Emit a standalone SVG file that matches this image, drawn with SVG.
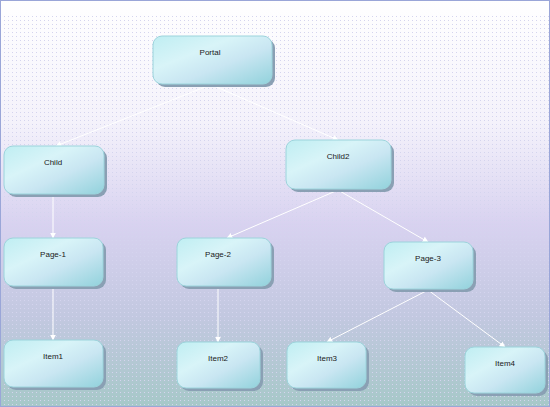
<svg xmlns="http://www.w3.org/2000/svg" width="550" height="407" viewBox="0 0 550 407">
<defs>
<linearGradient id="bg" x1="0" y1="0" x2="0" y2="1">
<stop offset="0" stop-color="#ffffff"/>
<stop offset="0.3" stop-color="#f4f2fb"/>
<stop offset="0.55" stop-color="#d8d2f0"/>
<stop offset="0.78" stop-color="#c2c8e0"/>
<stop offset="1" stop-color="#a6c8c8"/>
</linearGradient>
<pattern id="dots" width="4" height="4" patternUnits="userSpaceOnUse">
<rect x="0" y="0" width="1" height="1" fill="#d4d4ee"/>
</pattern>
<linearGradient id="nf" x1="0" y1="0" x2="1" y2="1">
<stop offset="0" stop-color="#bfeef2"/>
<stop offset="0.35" stop-color="#d8f4f8"/>
<stop offset="0.6" stop-color="#c9e6f2"/>
<stop offset="1" stop-color="#92d2dc"/>
</linearGradient>
<marker id="ah" viewBox="0 0 10 10" refX="9" refY="5" markerWidth="6" markerHeight="6" orient="auto">
<path d="M0,0 L10,5 L0,10 z" fill="#ffffff"/>
</marker>
<style>
.sh{fill:#8aa0b4;}
.nd{fill:url(#nf);stroke:#9cd4dc;stroke-width:1;}
.lb{font-family:"Liberation Sans",Arial,sans-serif;font-size:8px;fill:#202020;text-anchor:middle;}
.cn{stroke:#ffffff;stroke-width:1;fill:none;marker-end:url(#ah);}
</style>
</defs>
<rect x="0" y="0" width="550" height="407" fill="url(#bg)"/>
<rect x="0" y="15" width="550" height="392" fill="url(#dots)"/>
<rect x="0.5" y="0.5" width="549" height="406" fill="none" stroke="#9aa6d8" stroke-width="1"/>
<g id="connectors">
<line class="cn" x1="210" y1="85" x2="56" y2="146"/>
<line class="cn" x1="212" y1="85" x2="338" y2="140"/>
<line class="cn" x1="53" y1="195" x2="53" y2="238"/>
<line class="cn" x1="338" y1="190" x2="227" y2="238"/>
<line class="cn" x1="338" y1="190" x2="428" y2="242"/>
<line class="cn" x1="53" y1="287" x2="53" y2="340"/>
<line class="cn" x1="218" y1="287" x2="218" y2="342"/>
<line class="cn" x1="428" y1="290" x2="327" y2="342"/>
<line class="cn" x1="428" y1="290" x2="505" y2="347"/>
</g>
<g id="n0"><rect class="sh" x="156" y="39" width="119" height="48" rx="9"/><rect class="nd" x="153" y="36" width="119" height="48" rx="9"/><text class="lb" x="210" y="55">Portal</text></g>
<g id="n1"><rect class="sh" x="7" y="149" width="100" height="48" rx="9"/><rect class="nd" x="4" y="146" width="100" height="48" rx="9"/><text class="lb" x="53" y="165">Child</text></g>
<g id="n2"><rect class="sh" x="289" y="143" width="105" height="49" rx="9"/><rect class="nd" x="286" y="140" width="105" height="49" rx="9"/><text class="lb" x="338" y="159">Child2</text></g>
<g id="n3"><rect class="sh" x="7" y="241" width="99" height="48" rx="9"/><rect class="nd" x="4" y="238" width="99" height="48" rx="9"/><text class="lb" x="53" y="257">Page-1</text></g>
<g id="n4"><rect class="sh" x="180" y="241" width="94" height="48" rx="9"/><rect class="nd" x="177" y="238" width="94" height="48" rx="9"/><text class="lb" x="218" y="257">Page-2</text></g>
<g id="n5"><rect class="sh" x="387" y="245" width="89" height="47" rx="9"/><rect class="nd" x="384" y="242" width="89" height="47" rx="9"/><text class="lb" x="428" y="261">Page-3</text></g>
<g id="n6"><rect class="sh" x="7" y="343" width="99" height="47" rx="9"/><rect class="nd" x="4" y="340" width="99" height="47" rx="9"/><text class="lb" x="53" y="359">Item1</text></g>
<g id="n7"><rect class="sh" x="180" y="345" width="83" height="46" rx="9"/><rect class="nd" x="177" y="342" width="83" height="46" rx="9"/><text class="lb" x="218" y="361">Item2</text></g>
<g id="n8"><rect class="sh" x="290" y="345" width="79" height="46" rx="9"/><rect class="nd" x="287" y="342" width="79" height="46" rx="9"/><text class="lb" x="327" y="361">Item3</text></g>
<g id="n9"><rect class="sh" x="468" y="350" width="80" height="46" rx="9"/><rect class="nd" x="465" y="347" width="80" height="46" rx="9"/><text class="lb" x="505" y="366">Item4</text></g>
</svg>
